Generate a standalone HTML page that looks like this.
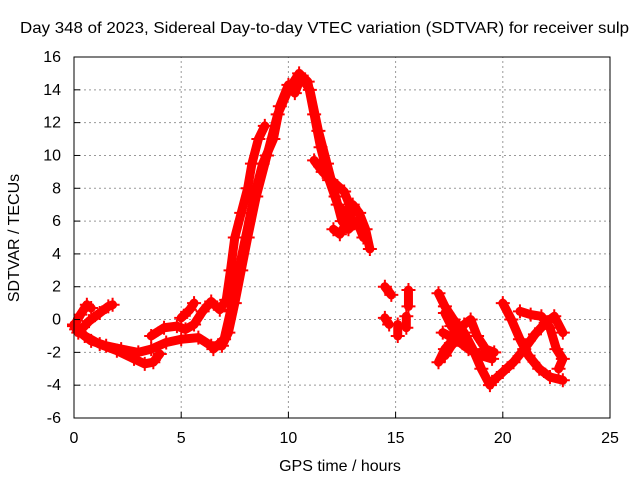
<!DOCTYPE html>
<html><head><meta charset="utf-8">
<style>
body{margin:0;background:#fff;font-family:"Liberation Sans",sans-serif}
text{font-family:"Liberation Sans",sans-serif;font-size:16px;fill:#000}
</style></head>
<body>
<svg id="chart" width="640" height="480" xmlns="http://www.w3.org/2000/svg">
<rect width="640" height="480" fill="#fff"/>
<text x="20" y="33" textLength="609" lengthAdjust="spacingAndGlyphs">Day 348 of 2023, Sidereal Day-to-day VTEC variation (SDTVAR) for receiver sulp</text>
<g id="grid"></g>
<g id="series"></g>
<rect x="74" y="57" width="536" height="361" fill="none" stroke="#000" stroke-width="1"/>
<g id="ticks"></g>
<text x="340" y="471" text-anchor="middle">GPS time / hours</text>
<text x="0" y="0" transform="translate(19,238) rotate(-90)" text-anchor="middle">SDTVAR / TECUs</text>
</svg>
<script>
const xTicks=[0,5,10,15,20,25];
const yTicks=[-6,-4,-2,0,2,4,6,8,10,12,14,16];
const track1=[[0,-0.4],[0.3,0.3],[0.6,0.9],[0.8,0.7]];
const track2=[[0.2,-0.8],[0.7,-0.1],[1.2,0.4],[1.6,0.8],[1.8,0.9]];
const track3=[[0,-0.3],[0.5,-1.0],[1.2,-1.5],[2,-1.9],[2.8,-2.4],[3.3,-2.7],[3.7,-2.6],[4,-2.1]];
const track4=[[0.1,-0.6],[0.8,-1.3],[1.5,-1.6],[2.2,-1.8],[3,-2.0],[3.6,-1.8],[4.3,-1.4],[5,-1.2],[5.8,-1.1],[6.4,-1.6],[6.9,-1.6],[7.2,-0.8],[7.5,1],[7.8,3],[8.1,5],[8.5,7.5],[9,10],[9.5,12.5],[10,14],[10.5,15],[10.9,14.5],[11.2,12.5],[11.5,10.5],[11.9,8.5],[12.3,7],[12.6,6.5],[13,7],[13.3,6.5],[13.6,5.5],[13.8,4.3]];
const track5=[[3.6,-1.0],[4.2,-0.5],[4.8,-0.4],[5.2,-0.6],[5.6,-0.3],[6,0.5],[6.4,1.1],[6.8,0.6],[7.1,1.2],[7.3,3],[7.5,5],[7.8,6.5],[8.1,8],[8.3,9.5],[8.6,11],[8.9,11.8]];
const track6=[[5,0.1],[5.4,0.6],[5.6,1.0]];
const track7=[[6.5,-1.8],[7,-1.2],[7.3,0.5],[7.6,2.5],[8,5],[8.4,7.5],[8.8,9.5],[9.3,11],[9.6,13],[10,14.3],[10.3,13.8],[10.6,14.8],[11,14],[11.4,11.5],[11.8,9.5],[12.2,7.5],[12.5,6],[12.8,5.5],[13.2,6],[13.5,5]];
const track8=[[11.2,9.7],[11.6,9],[12,8.5],[12.6,7.8],[13,6.5],[12.4,5.2],[12.1,5.5]];
const track9=[[14.5,2],[14.8,1.5]];
const track10=[[14.5,0.1],[14.7,-0.3]];
const track11=[[15.1,-0.3],[15.1,-1]];
const track12=[[15.6,1.8],[15.6,0.8]];
const track13=[[15.5,0.2],[15.5,-0.5]];
const track14=[[17,1.6],[17.3,0.8],[17.7,0],[18.2,-0.8],[18.6,-1.8],[19,-3],[19.4,-4]];
const track15=[[17,-2.6],[17.3,-1.8],[17.7,-1.2],[18.2,-0.3],[18.5,0],[18.8,-1],[19.2,-1.8],[19.6,-2]];
const track16=[[17.2,-0.8],[17.8,-1.2],[18.4,-1.8],[19,-2.2],[19.5,-2.4]];
const track17=[[19.5,-3.8],[20,-3.2],[20.5,-2.6],[21,-1.8],[21.5,-0.9],[22,-0.2],[22.4,0.2],[22.8,-0.8]];
const track18=[[20,1],[20.4,0],[20.8,-1.2],[21.2,-2.2],[21.7,-3],[22.2,-3.5],[22.8,-3.7]];
const track19=[[20.8,0.5],[21.3,0.3],[21.8,0.2],[22.2,-0.5],[22.5,-1.8],[22.8,-2.4],[22.6,-3]];
const track20=[[17.3,0.4],[17.6,-0.4],[18,-1],[17.6,-1.6],[17.3,-2.2]];
const tracks=[track1,track2,track3,track4,track5,track6,track7,track8,track9,track10,track11,track12,track13,track14,track15,track16,track17,track18,track19,track20];

const X0=74,X1=610,Y0=418,Y1=57;
const xs=v=>X0+(v-0)/(25-0)*(X1-X0);
const ys=v=>Y0-(v+6)/(16+6)*(Y0-Y1);
const NS="http://www.w3.org/2000/svg";
const g=document.getElementById('grid'),t=document.getElementById('ticks'),s=document.getElementById('series');
function mk(tag,at,p){const e=document.createElementNS(NS,tag);for(const k in at)e.setAttribute(k,at[k]);p.appendChild(e);return e;}
xTicks.forEach(v=>{
  const x=xs(v);
  if(v>0&&v<25){const l=mk('line',{x1:x,x2:x,y1:Y0,y2:Y1,stroke:'#999','stroke-dasharray':'2,3'},g);
  
  }
  const tk=mk('line',{x1:x,x2:x,y1:Y0,y2:Y0-6,stroke:'#000'},t);
  
  
  const tx=mk('text',{x:x,y:443,'text-anchor':'middle'},t);tx.textContent=v;
  
  
});
yTicks.forEach(v=>{
  const y=ys(v);
  if(v>-6&&v<16){const l=mk('line',{x1:X0,x2:X1,y1:y,y2:y,stroke:'#999','stroke-dasharray':'2,3'},g);
  
  }
  const tk=mk('line',{x1:X0,x2:X0+6,y1:y,y2:y,stroke:'#000'},t);
  
  
  const tx=mk('text',{x:61,y:y+5,'text-anchor':'end'},t);tx.textContent=v;
  
  
});
tracks.forEach((tr,i)=>{
  const pts=tr.map(p=>xs(p[0])+','+ys(p[1])).join(' ');
  const pl=mk('polyline',{points:pts,fill:'none',stroke:'#f00','stroke-width':9,'stroke-linejoin':'round','stroke-linecap':'round'},s);
  
  
  tr.forEach(p=>{
    const x=xs(p[0]),y=ys(p[1]);
    const m=mk('path',{d:`M${x-7},${y}h14M${x},${y-7}v14`,stroke:'#f00','stroke-width':2},s);
    
    
  });
});
</script>
</body></html>
